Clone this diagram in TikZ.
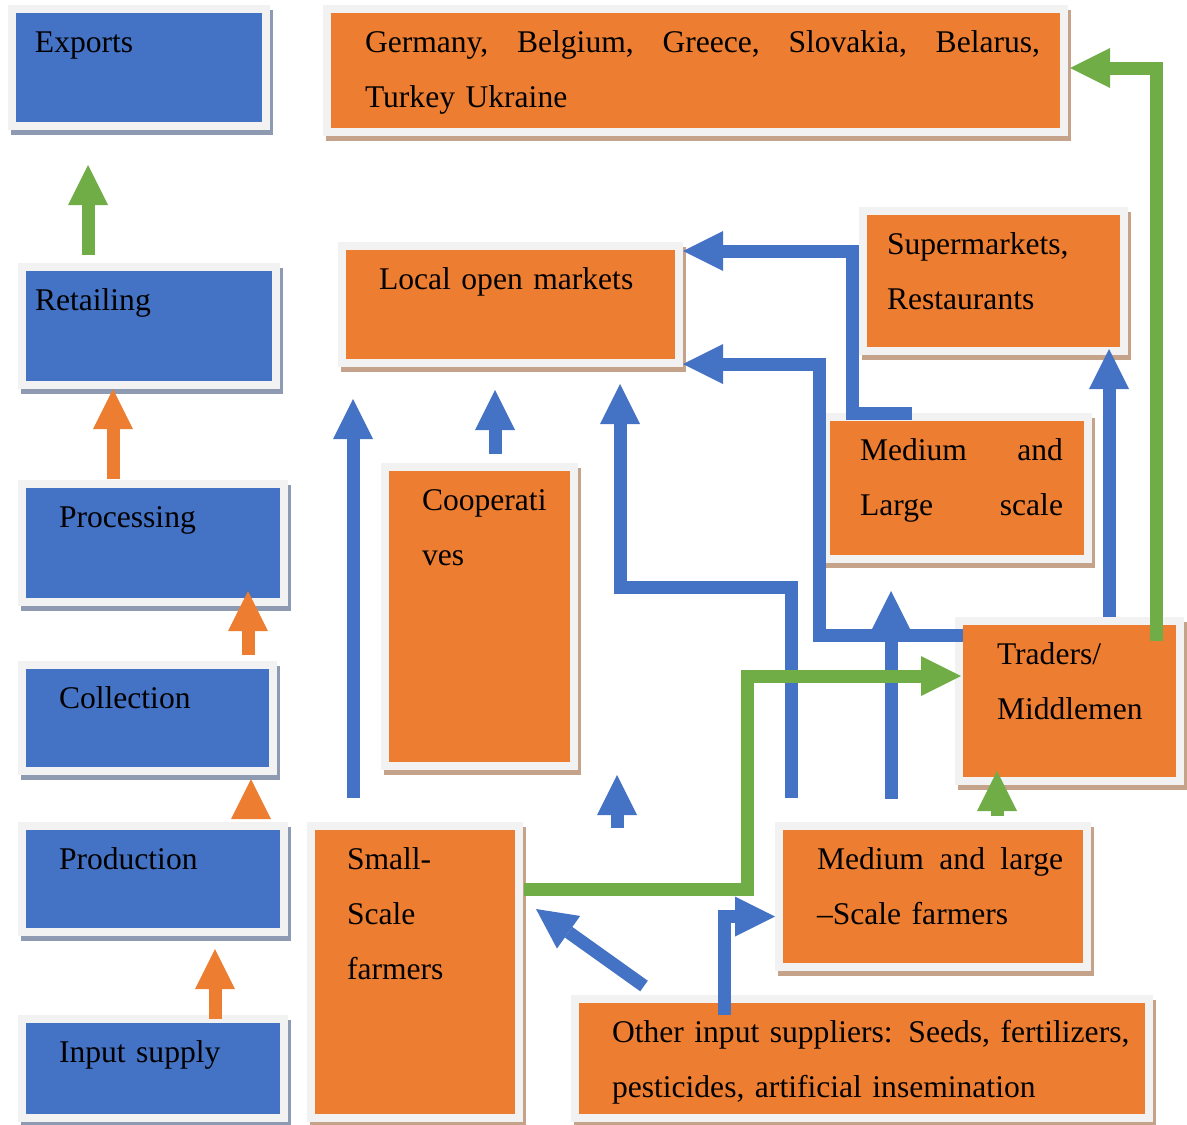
\documentclass[tikz,border=0pt]{standalone}
\usepackage{fontspec}
\setmainfont{Liberation Serif}
\usepackage{tikz}
\usetikzlibrary{arrows.meta, shadows}
\newdimen\px \px=0.38pt
\definecolor{stageblue}{HTML}{4472C4}
\definecolor{actororange}{HTML}{ED7D31}
\definecolor{flowgreen}{HTML}{70AD47}
\definecolor{framegrey}{HTML}{F2F2F2}
\definecolor{stageshade}{HTML}{8E9AB1}
\definecolor{actorshade}{HTML}{C5A38A}
\tikzstyle{panel}=[rectangle, inner sep=0pt, align=left, text height=43\px, draw=framegrey, line width=8\px, font=\fontsize{12}{20.9}\selectfont]
\tikzstyle{stage}=[panel, fill=stageblue, drop shadow={shadow xshift=3\px, shadow yshift=-5\px, opacity=1, fill=stageshade, draw=stageshade, line width=8\px}]
\tikzstyle{actor}=[panel, fill=actororange, drop shadow={shadow xshift=3\px, shadow yshift=-5\px, opacity=1, fill=actorshade, draw=actorshade, line width=8\px}]
\tikzstyle{blueflow}=[draw=stageblue, line width=13\px, -{Triangle[width=15.2pt, length=15.2pt, line width=0pt]}]
\tikzstyle{orangeflow}=[blueflow, draw=actororange]
\tikzstyle{greenflow}=[blueflow, draw=flowgreen]
\tikzset{
  dims/.style 2 args={text width=#1\px, text depth=#2\px},
  pad/.style 2 args={execute at begin node={\leftskip=#1\px\rightskip=#2\px plus 1fil\relax}}
}
\newcommand{\stagenode}{\node[stage]}
\newcommand{\actornode}{\node[actor]}

\begin{document}
\begin{tikzpicture}[x=0.38pt, y=-0.38pt]
\useasboundingbox (0,0) rectangle (1187,1124);

% value chain stages
\stagenode (exp) at (139,67.5) [dims={254}{74}, pad={23}{0}] {Exports};
\stagenode (ret) at (149,326) [dims={254}{75}, pad={13}{0}] {Retailing};
\stagenode (pro) at (153,543) [dims={262}{75}, pad={37}{0}] {Processing};
\stagenode (col) at (147.5,718) [dims={251}{63}, pad={37}{0}] {Collection};
\stagenode (prd) at (153,879) [dims={262}{63}, pad={37}{0}] {Production};
\stagenode (inp) at (153,1068.5) [dims={262}{56}, pad={37}{0}] {Input supply};

% actors
\actornode (ger) at (695.5,70.5) [dims={737}{80}, pad={38}{24}] {Germany, \hfill Belgium, \hfill Greece, \hfill Slovakia, \hfill Belarus,\\Turkey Ukraine};
\actornode (lom) at (510.5,304.5) [dims={337}{74}, pad={37}{0}] {Local open markets};
\actornode (sup) at (993.5,281) [dims={261}{97}, pad={24}{0}] {Supermarkets,\\Restaurants};
\actornode (mls) at (957,488) [dims={262}{99}, pad={34}{25}] {Medium \hfill and\\Large \hfill scale};
\actornode (coo) at (479.5,616.5) [dims={189}{256}, pad={37}{0}] {Cooperati\\ves};
\actornode (trd) at (1069.5,701) [dims={221}{117}, pad={38}{0}] {Traders/\\Middlemen};
\actornode (ssf) at (415,972) [dims={208}{249}, pad={36}{0}] {Small-\\Scale\\farmers};
\actornode (mlf) at (933,896.5) [dims={308}{98}, pad={38}{24}] {Medium \hfill and \hfill large\\–Scale farmers};
\actornode (ois) at (862,1058.5) [dims={574}{76}, pad={37}{0}] {\makebox[513\px][s]{Other input suppliers: Seeds, fertilizers,}\\pesticides, artificial insemination};

\coordinate (up1) at (617,828);
\coordinate (up2) at (617,775);

% stage arrows
\draw[greenflow] ([shift={(70,-8)}]ret.north west) -- ([shift={(80,35)}]exp.south west);
\draw[orangeflow] ([shift={(95,-1)}]pro.north west) -- ([shift={(95,0)}]ret.south west);
\draw[orangeflow] ([shift={(230,-6)}]col.north west) -- ([shift={(230,-15)}]pro.south west);
\draw[orangeflow] ([shift={(233,-5)}]prd.north west) -- ([shift={(233,4)}]col.south west);
\draw[orangeflow] ([shift={(197,4)}]inp.north west) -- ([shift={(197,13)}]prd.south west);

% blue flows
\draw[blueflow] ([shift={(46,-24)}]ssf.north west) -- ([shift={(15,32)}]lom.south west);
\draw[blueflow] ([shift={(114,-9)}]coo.north west) -- ([shift={(157,23)}]lom.south west);
\draw[blueflow] ([shift={(16,-24)}]mlf.north west) -- ++(0,-211) -| ([shift={(282,17)}]lom.south west);
\draw[blueflow] ([shift={(8,18)}]trd.north west) -- ++(-144,0) |- ([shift={(0,-3)}]lom.south east);
\draw[blueflow] ([shift={(90,0)}]mls.north west) -- ++(-60,0) |- ([shift={(0,9)}]lom.north east);
\draw[blueflow] ([shift={(116,-23)}]mlf.north west) -- ([shift={(69,28)}]mls.south west);
\draw[blueflow] ([shift={(154,0)}]trd.north west) -- ([shift={(250,-6)}]sup.south west);
\draw[blueflow] (up1) -- (up2);
\draw[blueflow] ([shift={(73,-9)}]ois.north west) -- ([shift={(13,87)}]ssf.north east);
\draw[blueflow] ([shift={(153,20)}]ois.north west) |- ([shift={(0,20)}]mlf.west);

% green flows
\draw[greenflow] ([shift={(1,67)}]ssf.north east) -- ++(223,0) |- ([shift={(6,59)}]trd.north west);
\draw[greenflow] ([shift={(222,-6)}]mlf.north west) -- ([shift={(42,-14)}]trd.south west);
\draw[greenflow] ([shift={(201,24)}]trd.north west) |- ([shift={(2,63)}]ger.north east);
\end{tikzpicture}
\end{document}
